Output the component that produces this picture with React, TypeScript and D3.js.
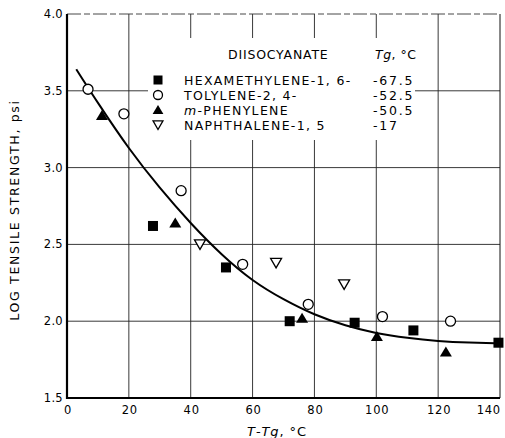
// App.tsx – log tensile strength vs T - Tg

import React from "react";
import * as d3 from "d3";

const xTicks = [0, 20, 40, 60, 80, 100, 120, 140];
const yTicks = [1.5, 2.0, 2.5, 3.0, 3.5, 4.0];

// hexamethylene-1,6 (filled squares)
const hexX = [27.8, 51.4, 72, 93, 112, 139.5];
const hexY = [2.62, 2.35, 2.0, 1.99, 1.94, 1.86];
// tolylene-2,4 (open circles)
const tolX = [6.8, 18.4, 36.9, 56.8, 78, 102, 124];
const tolY = [3.51, 3.35, 2.85, 2.37, 2.11, 2.03, 2.0];
// m-phenylene (filled triangles)
const phenX = [11.3, 35, 76, 100.2, 122.5];
const phenY = [3.34, 2.64, 2.02, 1.9, 1.8];
// naphthalene-1,5 (open inverted triangles)
const naphX = [43, 67.6, 89.6];
const naphY = [2.5, 2.38, 2.24];

// fitted curve
const curveX = [3, 10, 20, 30, 40, 50, 60, 70, 80, 90, 100, 110, 120, 130, 140];
const curveY = [3.64, 3.42, 3.12, 2.865, 2.635, 2.43, 2.26, 2.14, 2.04, 1.97, 1.92, 1.89, 1.87, 1.86, 1.855];

const legendNames = ["HEXAMETHYLENE-1, 6-", "TOLYLENE-2, 4-", "m-PHENYLENE", "NAPHTHALENE-1, 5"];
const legendTg = ["-67.5", "-52.5", "-50.5", "-17"];

const W = 505;
const H = 438;
const margin = { top: 14, right: 5, bottom: 40, left: 67 };
const FONT = "'DejaVu Sans', sans-serif";

type Kind = "square" | "circle" | "tri" | "itri";

const Marker = ({ kind, x, y, s = 1 }: { kind: Kind; x: number; y: number; s?: number }) => {
  if (kind === "square")
    return <rect x={x - 5 * s} y={y - 5 * s} width={10 * s} height={10 * s} fill="#000" />;
  if (kind === "circle")
    return <circle cx={x} cy={y} r={5 * s} fill="#fff" stroke="#000" strokeWidth={1.3} />;
  if (kind === "tri")
    return (
      <path
        d={`M${x - 6 * s},${y + 4.5 * s} L${x + 6 * s},${y + 4.5 * s} L${x},${y - 5.5 * s} Z`}
        fill="#000"
      />
    );
  return (
    <path
      d={`M${x - 5.5 * s},${y - 4.5 * s} L${x + 5.5 * s},${y - 4.5 * s} L${x},${y + 5 * s} Z`}
      fill="#fff"
      stroke="#000"
      strokeWidth={1.3}
    />
  );
};

export default function App() {
  const x = d3.scaleLinear().domain([0, 140]).range([margin.left, W - margin.right]);
  const y = d3.scaleLinear().domain([1.5, 4.0]).range([H - margin.bottom, margin.top]);

  const line = d3
    .line<number>()
    .x((d) => x(d))
    .y((d, i) => y(curveY[i]))
    .curve(d3.curveBasis);

  const series: { kind: Kind; xs: number[]; ys: number[] }[] = [
    { kind: "square", xs: hexX, ys: hexY },
    { kind: "circle", xs: tolX, ys: tolY },
    { kind: "tri", xs: phenX, ys: phenY },
    { kind: "itri", xs: naphX, ys: naphY },
  ];

  const x0 = x(0);
  const x1 = x(140);
  const yTop = y(4.0);
  const yBot = y(1.5);

  return (
    <svg
      width={W}
      height={H}
      style={{ position: "absolute", left: 0, top: 0, background: "#fff" }}
      fontFamily={FONT}
    >
      {/* grid */}
      {xTicks.slice(1, -1).map((t) => (
        <line key={"gx" + t} x1={x(t)} x2={x(t)} y1={yTop} y2={yBot} stroke="#222" strokeWidth={0.9} />
      ))}
      {yTicks.slice(1, -1).map((t) => (
        <line key={"gy" + t} x1={x0} x2={x1} y1={y(t)} y2={y(t)} stroke="#222" strokeWidth={0.9} />
      ))}
      {/* frame */}
      <line x1={x0} x2={x1} y1={yTop} y2={yTop} stroke="#333" strokeWidth={0.9} strokeDasharray="14,3,6,3" />
      <line x1={x1} x2={x1} y1={yTop} y2={yBot} stroke="#111" strokeWidth={1} />
      <line x1={x0} x2={x0} y1={yTop} y2={yBot + 1} stroke="#000" strokeWidth={2.2} />
      <line x1={x0 - 1} x2={x1} y1={yBot} y2={yBot} stroke="#000" strokeWidth={2.2} />

      {/* legend background */}
      <rect x={148} y={38} width={267} height={102} fill="#fff" />

      {/* tick labels */}
      {yTicks.map((t) => (
        <text key={"yl" + t} x={x0 - 4} y={y(t) + 4} fontSize={11.5} textAnchor="end" fill="#000" letterSpacing={0.3}>
          {t.toFixed(1)}
        </text>
      ))}
      {xTicks.map((t, i) => (
        <text
          key={"xl" + t}
          x={x(t) + 1}
          y={yBot + 16}
          fontSize={11.5}
          textAnchor={i === xTicks.length - 1 ? "end" : "middle"}
          fill="#000"
          letterSpacing={0.8}
        >
          {t}
        </text>
      ))}

      {/* axis titles */}
      <text x={277} y={436} fontSize={13} textAnchor="middle" fill="#000" letterSpacing={0.9}>
        <tspan fontStyle="italic">T</tspan>
        {"-"}
        <tspan fontStyle="italic">Tg</tspan>
        {",  °C"}
      </text>
      <text
        transform={`translate(19,${210}) rotate(-90)`}
        fontSize={12.5}
        textAnchor="middle"
        fill="#000"
        letterSpacing={1.7}
      >
        LOG TENSILE STRENGTH, psi
      </text>

      {/* fitted curve */}
      <path d={line(curveX) || ""} fill="none" stroke="#000" strokeWidth={2} />

      {/* data */}
      {series.map((s) =>
        s.xs.map((v, i) => <Marker key={s.kind + i} kind={s.kind} x={x(v)} y={y(s.ys[i])} />)
      )}

      {/* legend */}
      <text x={228} y={59} fontSize={12.5} fill="#000" letterSpacing={0.8}>
        DIISOCYANATE
      </text>
      <text x={375} y={59} fontSize={12.5} fill="#000" letterSpacing={0.5}>
        <tspan fontStyle="italic">Tg</tspan>, °C
      </text>
      {series.map((s, i) => (
        <g key={"lg" + i}>
          <Marker kind={s.kind} x={158} y={80 + i * 15} s={0.9} />
          <text x={184} y={85 + i * 15} fontSize={12.5} fill="#000" letterSpacing={1.3}>
            {i === 2 ? (
              <>
                <tspan fontStyle="italic">m</tspan>-PHENYLENE
              </>
            ) : (
              legendNames[i]
            )}
          </text>
          <text x={373} y={85 + i * 15} fontSize={12.5} fill="#000" letterSpacing={1.8}>
            {legendTg[i]}
          </text>
        </g>
      ))}
    </svg>
  );
}
